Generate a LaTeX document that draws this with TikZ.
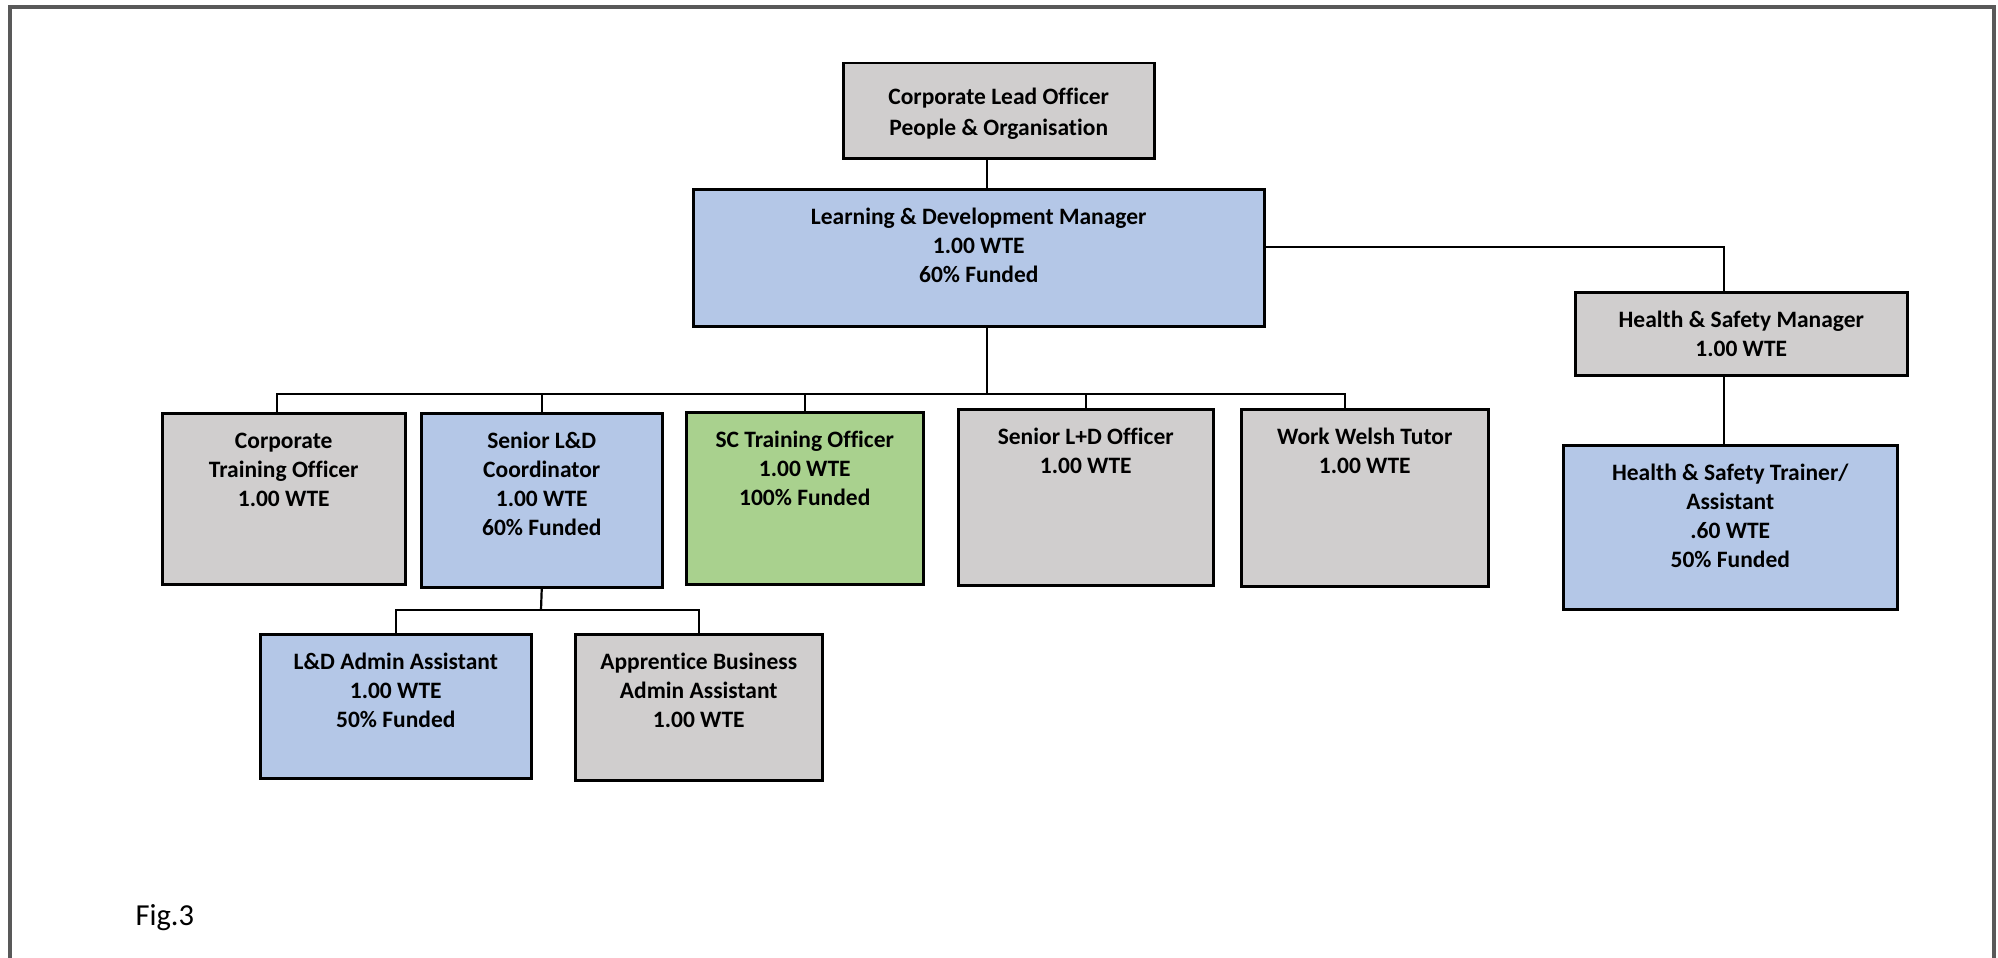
\documentclass[tikz,border=0pt]{standalone}
\usepackage{fontspec}
\setmainfont{Carlito}[Ligatures=NoCommon]
\usepackage{tikz}

\definecolor{boxgray}{HTML}{D0CECE}
\definecolor{boxblue}{HTML}{B4C7E7}
\definecolor{boxgreen}{HTML}{A9D18E}
\definecolor{framegray}{HTML}{595959}

% fixed size box with its text set from the top
\newcommand{\roletext}[3]{\parbox[t][#2][t]{#1}{\centering\rule{0pt}{35pt}#3}}

\tikzset{
  role/.style={draw, line width=2.5pt, inner sep=0pt, anchor=north west,
    font=\bfseries\fontsize{23.5}{29}\selectfont},
  link/.style={draw, line width=2.2pt}
}

\begin{document}
\begin{tikzpicture}[x=1pt, y=-1pt]
  \useasboundingbox (0,0) rectangle (1998,958);
  % page frame, open at the bottom
  \draw[framegray, line width=4pt] (10,958) -- (10,7) -- (1994,7) -- (1994,958);

  % top of the chart
  \node[role, fill=boxgray] (clo) at (842,62)
    {\parbox[t][95pt][t]{311pt}{\centering\rule{0pt}{41pt}Corporate Lead Officer\\[2pt]People \& Organisation}};
  \node[role, fill=boxblue] (ldm) at (692,188)
    {\roletext{571pt}{137pt}{Learning \& Development Manager\\1.00 WTE\\60\% Funded}};

  % health and safety branch
  \node[role, fill=boxgray] (hsm) at (1574,291)
    {\roletext{332pt}{83pt}{Health \& Safety Manager\\1.00 WTE}};
  \node[role, fill=boxblue] (hst) at (1562,444)
    {\roletext{334pt}{164pt}{Health \& Safety Trainer/\\Assistant\\.60 WTE\\50\% Funded}};

  % second row
  \node[role, fill=boxgray] (cto) at (161,412)
    {\roletext{243pt}{171pt}{Corporate\\Training Officer\\1.00 WTE}};
  \node[role, fill=boxblue] (sldc) at (420,412)
    {\roletext{241pt}{174pt}{Senior L\&D\\Coordinator\\1.00 WTE\\60\% Funded}};
  \node[role, fill=boxgreen] (sct) at (685,411)
    {\roletext{237pt}{172pt}{SC Training Officer\\1.00 WTE\\100\% Funded}};
  \node[role, fill=boxgray] (sldo) at (957,408)
    {\roletext{255pt}{176pt}{Senior L+D Officer\\1.00 WTE}};
  \node[role, fill=boxgray] (wwt) at (1240,408)
    {\roletext{247pt}{177pt}{Work Welsh Tutor\\1.00 WTE}};

  % third row
  \node[role, fill=boxblue] (lda) at (259,633)
    {\roletext{271pt}{144pt}{L\&D Admin Assistant\\1.00 WTE\\50\% Funded}};
  \node[role, fill=boxgray] (aba) at (574,633)
    {\roletext{247pt}{146pt}{Apprentice Business\\Admin Assistant\\1.00 WTE}};

  % connectors
  \coordinate (bus) at (987,394);
  \coordinate (subbus) at (541,610);
  \coordinate (hsx) at (1724,247);
  \draw[link] (clo.south -| bus) -- (ldm.north -| bus);
  \draw[link] (ldm.south -| bus) -- (bus);
  \draw[link] ([xshift=-7pt]cto.north) |- (bus);
  \foreach \n in {sldc, sct, sldo} {
    \draw[link] (\n.north) |- (bus);
  }
  \draw[link] ([xshift=-20pt]wwt.north) |- (bus);
  \draw[link] (sldc.south) -- (subbus);
  \foreach \n in {lda, aba} {
    \draw[link] (\n.north) |- (subbus);
  }
  \draw[link] (ldm.east |- hsx) -- (hsx) -- (hsm.north -| hsx);
  \draw[link] (hsm.south -| hsx) -- (hst.north -| hsx);

  \node[anchor=base west, font=\fontsize{30.5}{36}\selectfont] (fig) at (132,925) {Fig.3};
\end{tikzpicture}
\end{document}
